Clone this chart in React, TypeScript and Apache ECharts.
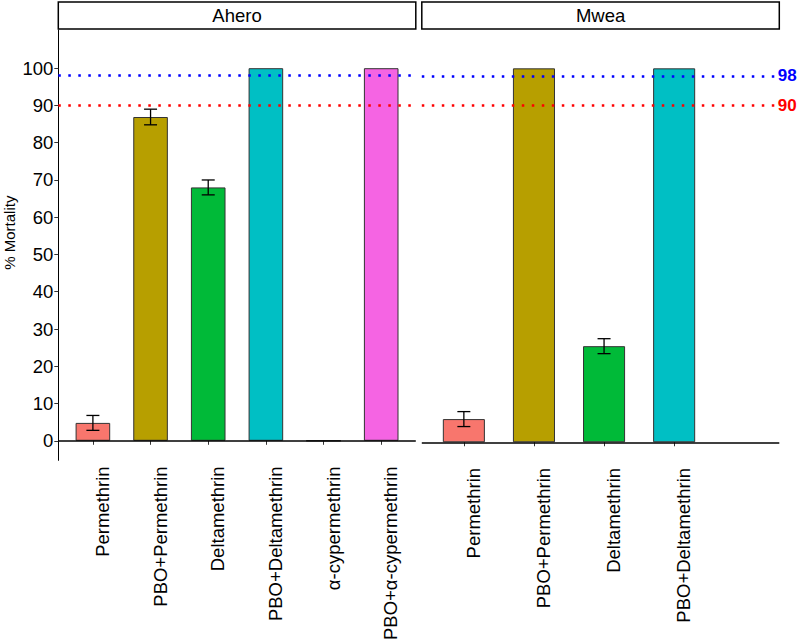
import React, { useEffect, useRef } from 'react';
import * as echarts from 'echarts';

// ---- data ----
const aheroCategories = ['Permethrin', 'PBO+Permethrin', 'Deltamethrin', 'PBO+Deltamethrin', 'α-cypermethrin', 'PBO+α-cypermethrin'];
const aheroMortality = [4.8, 86.9, 68.0, 100, 0, 100];
const aheroSE = [2.0, 2.1, 2.0, 0, 0, 0];
const aheroColors = ['#F8766D', '#B79F00', '#00BA38', '#00BFC4', '#619CFF', '#F564E3'];

const mweaCategories = ['Permethrin', 'PBO+Permethrin', 'Deltamethrin', 'PBO+Deltamethrin'];
const mweaMortality = [6.2, 100, 25.7, 100];
const mweaSE = [2.0, 0, 2.0, 0];
const mweaColors = ['#F8766D', '#B79F00', '#00BA38', '#00BFC4'];

const yTicks = [0, 10, 20, 30, 40, 50, 60, 70, 80, 90, 100];
const thresholdValues = [98, 90];
const thresholdColors = ['#0000FF', '#FF0000'];

// ---- layout ----
const W = 797;
const H = 643;
const FONT = "'Liberation Sans', Arial, Helvetica, sans-serif";
const FS = 18.5;
const panelTop = 30;
const panelBottom = 461.9;
const panelW = 357.5;
const panels = [
  { name: 'Ahero', left: 58.3, xMin: 0.4, xMax: 6.6, cats: aheroCategories, vals: aheroMortality, se: aheroSE, colors: aheroColors },
  { name: 'Mwea', left: 421.8, xMin: 0.4, xMax: 5.5, cats: mweaCategories, vals: mweaMortality, se: mweaSE, colors: mweaColors },
];
const yMin = -5.25;
const yMax = 110.25;

export default function App() {
  const ref = useRef<HTMLDivElement>(null);

  useEffect(() => {
    if (!ref.current) return;
    const chart = echarts.init(ref.current, undefined, { renderer: 'svg' });

    const grids: any[] = [];
    const xAxes: any[] = [];
    const yAxes: any[] = [];
    const series: any[] = [];
    const graphics: any[] = [];

    panels.forEach((p, i) => {
      grids.push({ left: p.left, top: panelTop, width: panelW, height: panelBottom - panelTop, containLabel: false });
      const tickVals = p.cats.map((_, j) => j + 1);
      xAxes.push({
        type: 'value',
        gridIndex: i,
        min: p.xMin,
        max: p.xMax,
        axisLine: { show: false },
        splitLine: { show: false },
        axisTick: { show: true, customValues: tickVals, length: 4, lineStyle: { color: '#333', width: 1 } },
        axisLabel: {
          customValues: tickVals,
          formatter: (v: number) => p.cats[Math.round(v) - 1] ?? '',
          rotate: 90,
          verticalAlign: 'top',
          margin: 6,
          fontSize: FS,
          color: '#000',
          fontFamily: FONT,
        },
      });
      yAxes.push({
        type: 'value',
        gridIndex: i,
        min: yMin,
        max: yMax,
        show: i === 0,
        axisLine: { show: true, lineStyle: { color: '#000', width: 1 } },
        splitLine: { show: false },
        axisTick: { show: true, customValues: yTicks, length: 4, lineStyle: { color: '#333', width: 1 } },
        axisLabel: { customValues: yTicks, fontSize: FS, color: '#000', fontFamily: FONT, margin: 5 },
        name: i === 0 ? '% Mortality' : '',
        nameLocation: 'middle',
        nameGap: 41,
        nameTextStyle: { fontSize: 15, color: '#000', fontFamily: FONT, padding: [0, 0, 0, 25] },
      });

      const bandPx = panelW / (p.xMax - p.xMin);
      series.push({
        type: 'bar',
        xAxisIndex: i,
        yAxisIndex: i,
        barWidth: bandPx * 0.6,
        data: p.cats.map((_, j) => ({ value: [j + 1, p.vals[j]], itemStyle: { color: p.colors[j] } })),
        itemStyle: { borderColor: '#333', borderWidth: 1 },
        markLine: {
          silent: true,
          symbol: 'none',
          animation: false,
          data: [
            { yAxis: 0, lineStyle: { type: 'solid', color: '#000', width: 1.5 }, label: { show: false } },
            ...thresholdValues.map((t, k) => ({
              yAxis: t,
              lineStyle: { type: [2.5, 7.5], color: thresholdColors[k], width: 2.5 },
              label: {
                show: i === 1,
                position: 'end',
                distance: -1.5,
                formatter: String(t),
                color: thresholdColors[k],
                fontWeight: 'bold',
                fontSize: 17,
                fontFamily: FONT,
              },
            })),
          ],
        },
      });

      series.push({
        type: 'custom',
        xAxisIndex: i,
        yAxisIndex: i,
        z: 5,
        encode: { x: 0, y: 1 },
        data: p.cats
          .map((_, j) => [j + 1, p.vals[j], p.se[j]])
          .filter((d) => d[2] > 0),
        renderItem: (params: any, api: any) => {
          const x = api.value(0);
          const m = api.value(1);
          const s = api.value(2);
          const top = api.coord([x, m + s]);
          const bot = api.coord([x, m - s]);
          const hw = 6.5;
          const st = { stroke: '#000', lineWidth: 1.3 };
          return {
            type: 'group',
            children: [
              { type: 'line', shape: { x1: top[0], y1: top[1], x2: bot[0], y2: bot[1] }, style: st },
              { type: 'line', shape: { x1: top[0] - hw, y1: top[1], x2: top[0] + hw, y2: top[1] }, style: st },
              { type: 'line', shape: { x1: bot[0] - hw, y1: bot[1], x2: bot[0] + hw, y2: bot[1] }, style: st },
            ],
          };
        },
      });

      graphics.push({
        type: 'rect',
        shape: { x: p.left, y: 2, width: panelW, height: 27 },
        style: { fill: '#fff', stroke: '#000', lineWidth: 1.5 },
      });
      graphics.push({
        type: 'text',
        x: p.left + panelW / 2,
        y: 15.5,
        style: { text: p.name, fontSize: FS, fontFamily: FONT, fill: '#000', align: 'center', verticalAlign: 'middle' },
      });
    });

    chart.setOption({
      animation: false,
      backgroundColor: '#fff',
      grid: grids,
      xAxis: xAxes,
      yAxis: yAxes,
      series,
      graphic: graphics,
    });

    return () => chart.dispose();
  }, []);

  return <div ref={ref} style={{ position: 'fixed', left: 0, top: 0, width: W, height: H }} />;
}
